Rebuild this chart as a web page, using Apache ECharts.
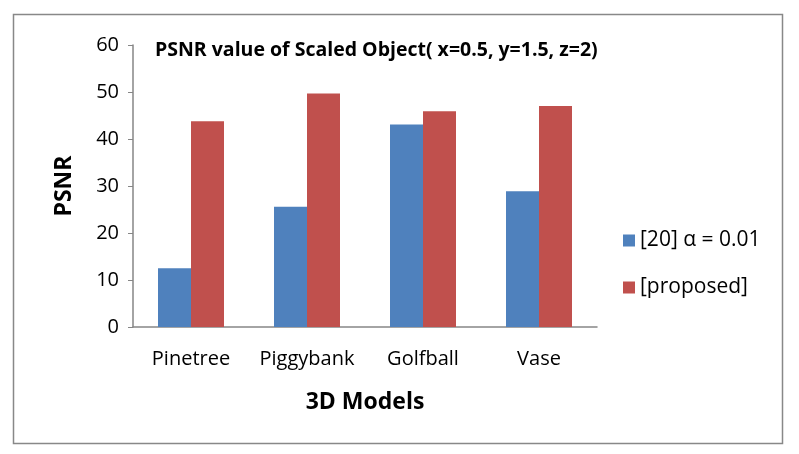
<!DOCTYPE html>
<html><head><meta charset="utf-8">
<script src="https://cdn.jsdelivr.net/npm/echarts@6/dist/echarts.min.js"></script>
<style>html,body{margin:0;padding:0;background:#fff}#c{width:799px;height:454px}</style>
</head><body><div id="c"></div>
<script>
const categories = ['Pinetree', 'Piggybank', 'Golfball', 'Vase'];
const seriesNames = ['[20] α = 0.01', '[proposed]'];
const baseline = [12.5, 25.6, 43.1, 28.9];
const proposed = [43.8, 49.7, 45.9, 47.0];
const yTicks = [0, 10, 20, 30, 40, 50, 60];

const FONT = "'Open Sans', sans-serif";
const chart = echarts.init(document.getElementById('c'), null, {renderer: 'canvas'});
chart.setOption({
  animation: false,
  backgroundColor: '#fff',
  graphic: [{
    type: 'rect', left: 11, top: 12,
    shape: {width: 769, height: 429},
    style: {fill: 'none', stroke: '#888', lineWidth: 1.5}
  }],
  title: {
    text: 'PSNR value of Scaled Object( x=0.5, y=1.5, z=2)',
    left: 150, top: 35,
    textStyle: {fontFamily: FONT, fontWeight: 'bold', fontSize: 19.5, color: '#000'}
  },
  legend: {
    orient: 'vertical', left: 618, top: 225,
    itemWidth: 12, itemHeight: 12, itemGap: 26,
    icon: 'rect',
    textStyle: {fontFamily: FONT, fontSize: 21, color: '#000'},
    data: seriesNames
  },
  grid: {left: 133, top: 45, width: 464, height: 282, containLabel: false},
  xAxis: {
    type: 'category', data: categories,
    name: '3D Models', nameLocation: 'middle', nameGap: 64,
    nameTextStyle: {fontFamily: FONT, fontWeight: 'bold', fontSize: 23, color: '#000'},
    axisLine: {lineStyle: {color: '#868686', width: 1.5}},
    axisTick: {show: false},
    axisLabel: {fontFamily: FONT, fontSize: 20, color: '#000', margin: 22, interval: 0}
  },
  yAxis: {
    type: 'value', min: 0, max: 60, interval: 10,
    name: 'PSNR', nameLocation: 'middle', nameGap: 57, nameRotate: 90,
    nameTextStyle: {fontFamily: FONT, fontWeight: 'bold', fontSize: 23, color: '#000'},
    axisLine: {show: true, lineStyle: {color: '#868686', width: 1.5}},
    axisTick: {show: true, length: 5, lineStyle: {color: '#868686'}},
    splitLine: {show: false},
    axisLabel: {fontFamily: FONT, fontSize: 20, color: '#000', margin: 14,
      formatter: v => yTicks.includes(v) ? String(v) : ''}
  },
  series: [
    {name: seriesNames[0], type: 'bar', data: baseline, barWidth: 33, barGap: '0%',
     itemStyle: {color: '#4F81BD'}},
    {name: seriesNames[1], type: 'bar', data: proposed, barWidth: 33, barGap: '0%',
     itemStyle: {color: '#C0504D'}}
  ]
});
</script></body></html>
